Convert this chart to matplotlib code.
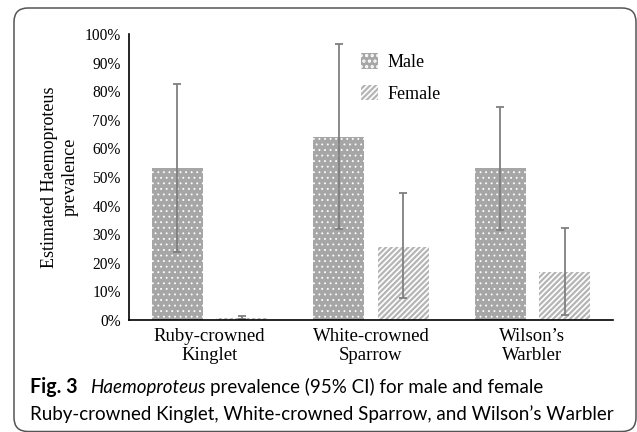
import matplotlib.pyplot as plt
import numpy as np
from matplotlib.patches import FancyBboxPatch

species = ["Ruby-crowned\nKinglet", "White-crowned\nSparrow", "Wilson\u2019s\nWarbler"]
male = [0.53, 0.64, 0.53]
male_low = [0.237, 0.318, 0.315]
male_high = [0.825, 0.965, 0.745]
female = [0.008, 0.255, 0.168]
female_low = [0.005, 0.077, 0.017]
female_high = [0.013, 0.444, 0.32]
yticks = np.arange(0, 1.01, 0.1)

fig = plt.figure(figsize=(6.37, 4.32), dpi=100)
ax = fig.add_axes([129/637, 1 - 320/432, 484/637, 286/432])

x = np.arange(len(species))
w = 0.316
off = 0.2

serif = "Liberation Serif"

plt.rcParams['hatch.linewidth'] = 0.6
ax.bar(x - off, male, w, color="#a6a6a6", edgecolor="white", linewidth=0,
       hatch="...", label="Male")
plt.rcParams['hatch.linewidth'] = 1.6
ax.bar(x + off, female, w, color="white", edgecolor="#b5b5b5", linewidth=0,
       hatch="//////", label="Female")

m_err = [np.array(male) - np.array(male_low), np.array(male_high) - np.array(male)]
f_err = [np.array(female) - np.array(female_low), np.array(female_high) - np.array(female)]
ax.errorbar(x - off, male, yerr=m_err, fmt="none", ecolor="#7f7f7f",
            elinewidth=1.3, capsize=2.8, capthick=1.3)
ax.errorbar(x + off, female, yerr=f_err, fmt="none", ecolor="#7f7f7f",
            elinewidth=1.3, capsize=2.8, capthick=1.3)

ax.set_xlim(-0.5, 2.5)
ax.set_ylim(0, 1)
ax.set_yticks(yticks)
ax.set_yticklabels([f"{int(round(v*100))}%" for v in yticks], fontsize=11.2, family=serif)
ax.set_xticks(x)
ax.set_xticklabels(species, fontsize=13.5, family=serif, linespacing=1.1)
ax.tick_params(axis="both", length=0)
ax.tick_params(axis="y", pad=6)
ax.tick_params(axis="x", pad=6)
for s in ["top", "right"]:
    ax.spines[s].set_visible(False)
ax.spines["left"].set_color("black")
ax.spines["bottom"].set_color("black")
ax.spines["left"].set_linewidth(1.2)
ax.spines["bottom"].set_linewidth(1.2)

ax.set_ylabel("Estimated Haemoproteus\nprevalence", fontsize=13, family=serif,
              linespacing=1.3, labelpad=4)

ax.legend(loc="upper left", bbox_to_anchor=(0.446, 0.99), frameon=False,
          prop={"family": serif, "size": 13}, handlelength=0.95, handleheight=0.95,
          labelspacing=0.75, handletextpad=0.5)

# rounded frame around figure + caption
box = FancyBboxPatch((0.14, 0.005), 6.22, 4.235,
                     boxstyle="round,pad=0,rounding_size=0.14",
                     transform=fig.dpi_scale_trans, facecolor="none",
                     edgecolor="#555555", linewidth=1.1)
fig.patches.append(box)

# caption, sized so the second line spans the same width as the reference
cap_font = "Lato"
line2 = "Ruby-crowned Kinglet, White-crowned Sparrow, and Wilson\u2019s Warbler"
r = fig.canvas.get_renderer()
t2 = fig.text(30/637, 1 - 420/432, line2, fontsize=14, family=cap_font, va="baseline")
wpx = t2.get_window_extent(r).width
fs = 14 * 585 / wpx
t2.set_fontsize(fs)

fig.text(30/637, 1 - 393/432, "Fig. 3", fontsize=fs * 1.05, fontweight="bold",
         family=cap_font, va="baseline")
ti = fig.text(90/637, 1 - 393/432, "Haemoproteus", fontsize=fs, style="italic",
              family=cap_font, va="baseline")
end = ti.get_window_extent(r).x1
fig.text((end + 0.3 * fs) / 637, 1 - 393/432, "prevalence (95% CI) for male and female",
         fontsize=fs, family=cap_font, va="baseline")

fig.savefig("out.png", dpi=100)
